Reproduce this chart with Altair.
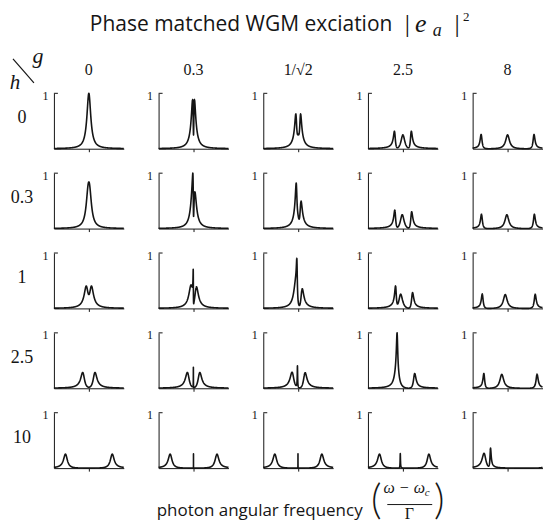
import json
import numpy as np
import pandas as pd
import altair as alt

# ---------------- values ----------------
G_VALUES = [0.0, 0.3, 1 / np.sqrt(2), 2.5, 8.0]      # atom-WGM coupling g (columns)
G_LABELS = ["0", "0.3", "1/\u221a2", "2.5", "8"]
H_VALUES = [0.0, 0.3, 1.0, 2.5, 10.0]                # backscattering h (rows)
H_LABELS = ["0", "0.3", "1", "2.5", "10"]
CAVITY_DECAY = 1.0        # Gamma, the frequency unit
ATOM_DECAY = 1e-5         # atom line practically lossless
X_RANGE = [-15.0, 15.0]
Y_RANGE = [0.0, 1.0]
X_TICKS = [0]
Y_TICKS = [1]
GRID_POINTS = 1201


def spectrum(g, h, d):
    """|e_a|^2 of the CW mode for detuning d (units of Gamma)."""
    sigma = g * g / (d + 1j * ATOM_DECAY)
    e = 0.5 * (CAVITY_DECAY / (d + h + 1j * CAVITY_DECAY)
               + CAVITY_DECAY / (d - h + 1j * CAVITY_DECAY - 2 * sigma))
    return np.abs(e) ** 2


frames = []
offs = np.geomspace(1e-4, 0.25, 22)
for r, h in enumerate(H_VALUES):
    for c, g in enumerate(G_VALUES):
        d = np.linspace(X_RANGE[0], X_RANGE[1], GRID_POINTS)
        centers = [0.0]
        if g > 0:
            s = np.sqrt(h * h + 8 * g * g)
            centers += [(h + s) / 2, (h - s) / 2]
        extra = [d]
        for c0 in centers:
            extra += [c0 + offs, c0 - offs, np.array([c0])]
        d = np.unique(np.concatenate(extra))
        d = d[(d >= X_RANGE[0]) & (d <= X_RANGE[1])]
        frames.append(pd.DataFrame({"row": r, "col": c,
                                    "x": np.round(d, 5),
                                    "y": np.round(spectrum(g, h, d), 4)}))
df = pd.concat(frames, ignore_index=True)

# ---------------- styling ----------------
INK = "#151515"
SERIF = "Liberation Serif"
SANS = "Open Sans"
W, H = 70, 55.5
COL_GAP, ROW_GAP = 34.875, 24
OX, OY = 54.0, 92.5          # page position of the first panel

base = alt.Chart()

x_enc = alt.X("x:Q", scale=alt.Scale(domain=X_RANGE, nice=False, zero=False),
              axis=alt.Axis(values=X_TICKS, labels=False, title=None, grid=False,
                            tickSize=3, tickColor=INK, domainColor=INK,
                            domainWidth=1, tickWidth=1))
y_enc = alt.Y("y:Q", scale=alt.Scale(domain=Y_RANGE, nice=False),
              axis=alt.Axis(values=Y_TICKS, format="d", title=None, grid=False,
                            ticks=False, labelPadding=6, labelFont=SERIF,
                            labelFontSize=12, labelColor=INK, labelFlush=False,
                            labelOffset=2, domainColor=INK, domainWidth=1))

line = base.mark_line(color=INK, strokeWidth=1.6, strokeJoin="round").encode(x=x_enc, y=y_enc)

first = f"datum.x == {X_RANGE[0]}"
top_tick = base.transform_filter(first).mark_rule(color=INK, strokeWidth=1).encode(
    y=alt.datum(Y_RANGE[1]), x=alt.value(0), x2=alt.value(4))

col_labels = base.transform_filter(f"{first} && datum.row == 0").transform_calculate(
    glab=f"{json.dumps(G_LABELS)}[datum.col]"
).mark_text(font=SERIF, fontSize=16, color=INK, baseline="middle").encode(
    text="glab:N", x=alt.value(W / 2), y=alt.value(69 - OY))

row_labels = base.transform_filter(f"{first} && datum.col == 0").transform_calculate(
    hlab=f"{json.dumps(H_LABELS)}[datum.row]"
).mark_text(font=SERIF, fontSize=18, color=INK, baseline="middle").encode(
    text="hlab:N", x=alt.value(22 - OX), y=alt.value(25))

cell0 = f"{first} && datum.row == 0 && datum.col == 0"


def note(text, px, py, size, font=SERIF, style="normal", align="center",
         baseline="alphabetic", weight="normal"):
    return base.transform_filter(cell0).mark_text(
        text=text, font=font, fontSize=size, fontStyle=style, fontWeight=weight,
        align=align, baseline=baseline, color=INK).encode(
        x=alt.value(px - OX), y=alt.value(py - OY))


def seg(x1, y1, x2, y2, width=1.0):
    return base.transform_filter(cell0).mark_rule(color=INK, strokeWidth=width).encode(
        x=alt.value(x1 - OX), y=alt.value(y1 - OY),
        x2=alt.value(x2 - OX), y2=alt.value(y2 - OY))


anchor = base.transform_filter(cell0).mark_rect(opacity=0).encode(
    x=alt.value(8 - OX), x2=alt.value(9 - OX), y=alt.value(8 - OY), y2=alt.value(9 - OY))

notes = [
    note("Phase matched WGM exciation", 90, 30.5, 21, font=SANS, align="left"),
    note("|", 408, 31.5, 26),
    note("e", 421.5, 31.5, 26, style="italic"),
    note("a", 438, 35, 18, style="italic"),
    note("|", 458, 31.5, 26),
    note("2", 467, 20, 13),
    note("g", 38, 62, 22, style="italic"),
    note("h", 15, 88, 21, style="italic"),
    seg(13, 58, 34, 82, 1.2),
    note("photon angular frequency", 157, 516, 17, font=SANS, align="left"),
    note("(", 377, 502, 41, font="Lato", weight=300, baseline="middle"),
    note(")", 440, 502, 41, font="Lato", weight=300, baseline="middle"),
    note("\u03c9 \u2212 \u03c9", 405, 493, 16, style="italic"),
    note("c", 428, 496, 11, style="italic"),
    seg(388, 504.5, 433, 504.5, 1.0),
    note("\u0393", 410, 519, 16),
]

layered = alt.layer(line, top_tick, col_labels, row_labels, anchor, *notes, data=df).properties(
    width=W, height=H)

chart = layered.facet(
    row=alt.Row("row:O", header=None),
    column=alt.Column("col:O", header=None),
    spacing={"row": ROW_GAP, "column": COL_GAP},
    bounds="flush",
).resolve_axis(x="independent", y="independent").properties(
    padding=0, background="white"
).configure_view(strokeWidth=0)

chart.save("out.html", embed_options={"renderer": "svg", "actions": False})
